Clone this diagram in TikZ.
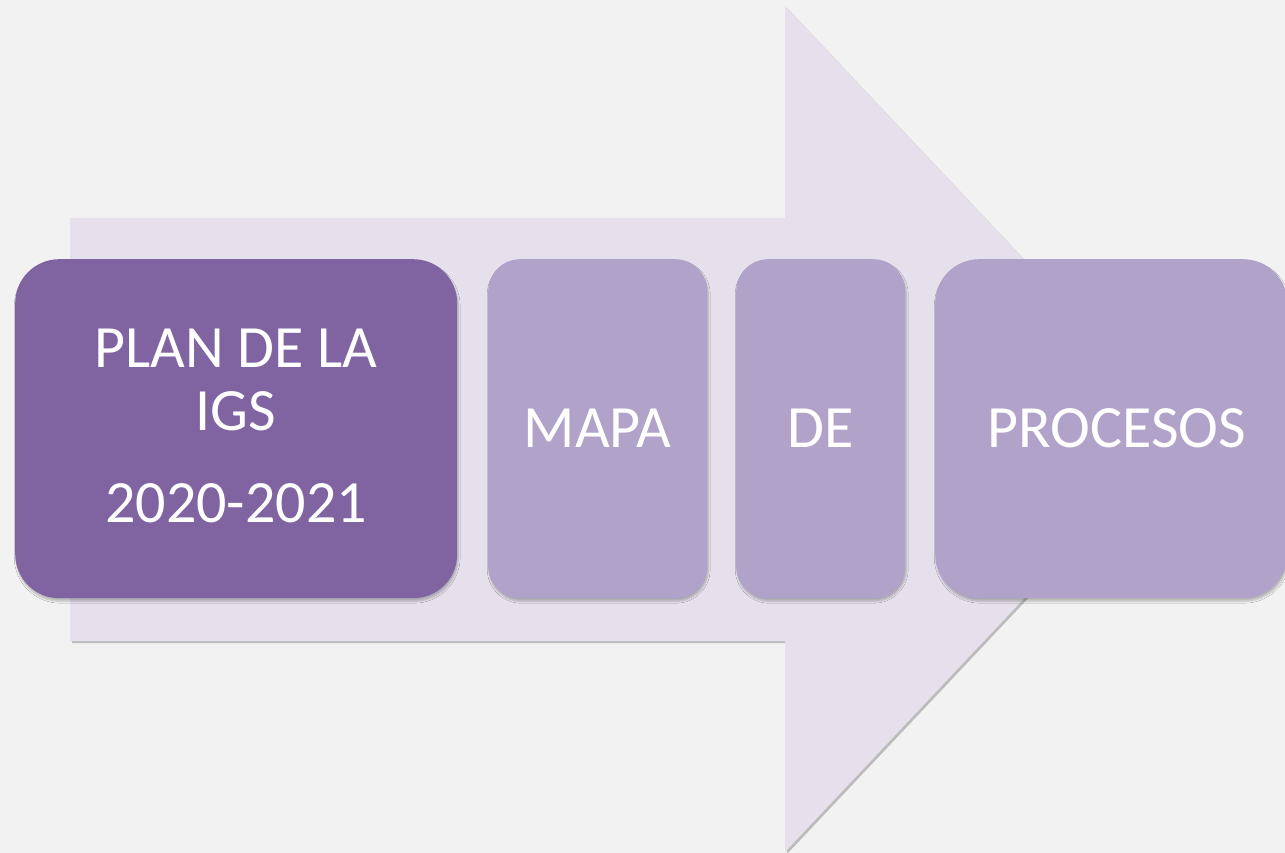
\documentclass[tikz,border=0pt]{standalone}
\usepackage{fontspec}
\setmainfont{Carlito}
\usetikzlibrary{shadows.blur}
\definecolor{bg}{HTML}{F2F2F2}
\definecolor{arrowfill}{HTML}{E5E0EC}
\definecolor{dark}{HTML}{8064A2}
\definecolor{light}{HTML}{B1A2C9}
\tikzset{
  card/.style={rounded corners=#1, inner sep=0pt, align=center, text=white,
    anchor=north west,
    blur shadow={shadow xshift=1pt, shadow yshift=-3pt, shadow blur steps=6, shadow opacity=25}},
  label/.style={align=center, text=white, font=\fontsize{60}{63}\selectfont},
}
\begin{document}
\begin{tikzpicture}[x=1pt,y=-1pt]
\fill[bg] (0,0) rectangle (1285,853);
\useasboundingbox (0,0) rectangle (1285,853);
% big arrow
\fill[black!40, opacity=0.6] (72,220) -- (787,220) -- (787,8) -- (1186,431) -- (787,854) -- (787,643) -- (72,643) -- cycle;
\fill[arrowfill] (70,218) -- (785,218) -- (785,6) -- (1184,429) -- (785,852) -- (785,641) -- (70,641) -- cycle;
% cards
\node[card=44pt, fill=dark, minimum width=442pt, minimum height=339pt] (plan) at (15,259) {};
\node[label] (plantext) at (236,426) {PLAN DE LA\\IGS\\[29pt]2020-2021};
\node[card=32pt, fill=light, minimum width=219pt, minimum height=339pt] (mapa) at (488,259) {};
\node[label] (mapatext) at (597.5,428) {MAPA};
\node[card=32pt, fill=light, minimum width=169pt, minimum height=339pt] (de) at (736,259) {};
\node[label] (detext) at (820.5,428) {DE};
\node[card=44pt, fill=light, minimum width=352pt, minimum height=339pt] (proc) at (935,259) {};
\node[label] (proctext) at (1117,428) {PROCESOS};
\end{tikzpicture}
\end{document}
